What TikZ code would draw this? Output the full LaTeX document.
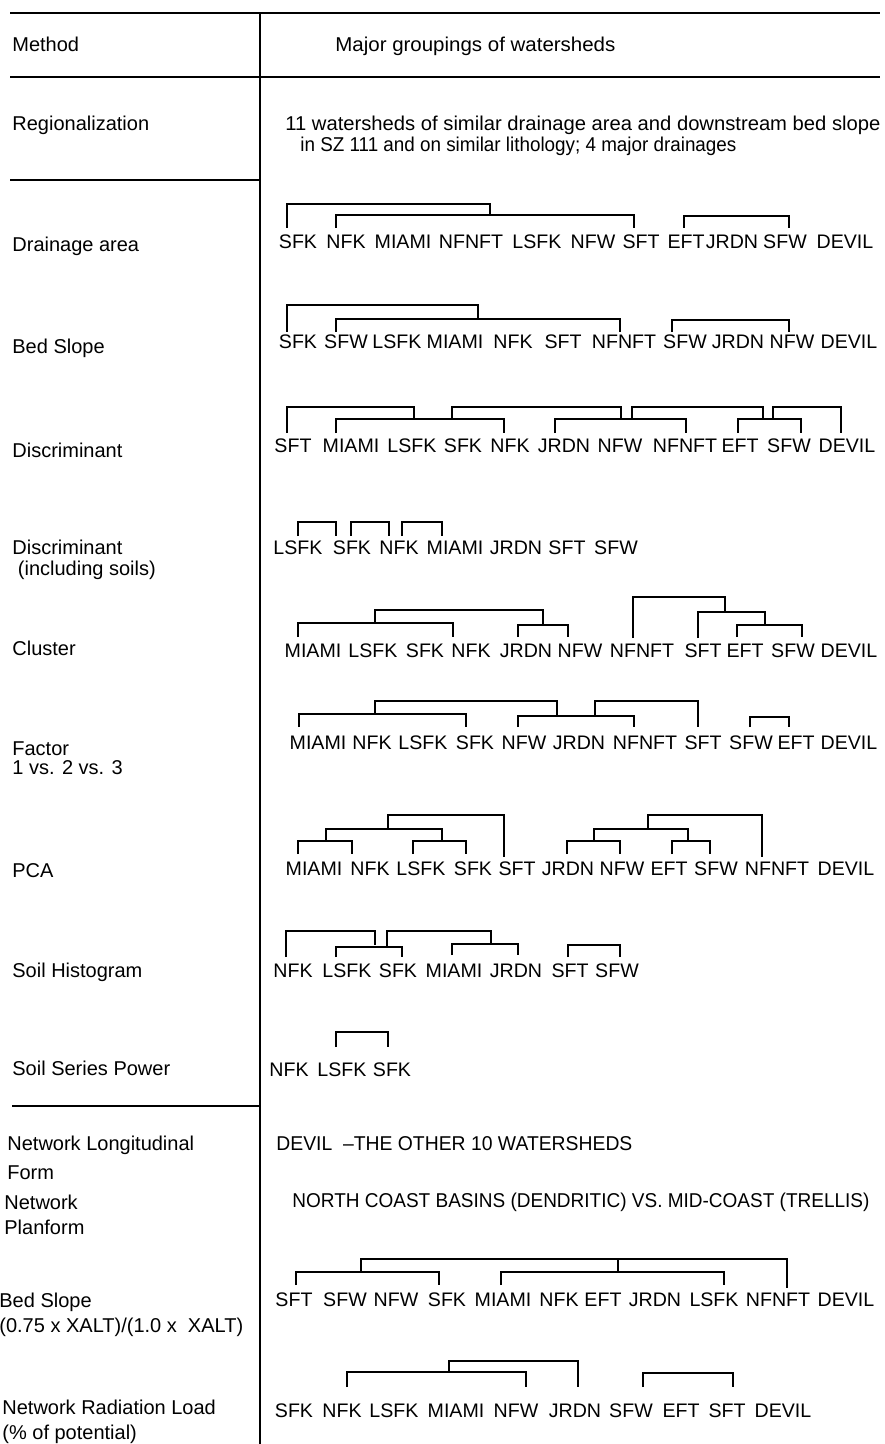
\documentclass[tikz,border=0pt]{standalone}
\usepackage{fontspec}
\usepackage{graphicx}
\setmainfont{Liberation Sans}
\newcommand\fitw[2]{\resizebox{#1}{\height}{#2}}
\newcommand\wordrow[3]{\foreach \x/\w [count=\i] in {#3} {\node[word] (#1-\i) at (\x,#2) {\w};}}
\begin{document}
\begin{tikzpicture}[x=0.5pt,y=-0.5pt,
  word/.style={anchor=base,inner sep=0pt,font=\fontsize{9.8}{11}\selectfont},
  lbl/.style={anchor=base west,inner sep=0pt,font=\fontsize{10}{12}\selectfont},
  txt/.style={anchor=base west,inner sep=0pt,font=\fontsize{10}{12}\selectfont},
  rule/.style={line width=1pt},
  br/.style={line width=1.3pt,line join=miter}]
\fill[white] (0,0) rectangle (884,1444);
\useasboundingbox (0,0) rectangle (884,1444);
% rules
\coordinate (tl) at (10,13); \coordinate (tr) at (880,13);
\coordinate (hl) at (10,77); \coordinate (hr) at (880,77);
\coordinate (dtop) at (260,13); \coordinate (dbot) at (260,1444);
\coordinate (s1l) at (10,180); \coordinate (s1r) at (260,180);
\coordinate (s2l) at (12,1106); \coordinate (s2r) at (260,1106);
\draw[rule] (tl) -- (tr);
\draw[rule] (hl) -- (hr);
\draw[rule] (dtop) -- (dbot);
\draw[rule] (s1l) -- (s1r);
\draw[rule] (s2l) -- (s2r);
% left labels
\node[lbl] (l0) at (12,51.5) {Method};
\node[lbl] (l1) at (12,130.5) {Regionalization};
\node[lbl] (l2) at (12,251.5) {Drainage area};
\node[lbl] (l3) at (12,353.5) {Bed Slope};
\node[lbl] (l4) at (12,457) {Discriminant};
\node[lbl] (l5a) at (12,554.5) {Discriminant};
\node[lbl] (l5b) at (12,575.5) {\ (including soils)};
\node[lbl] (l6) at (12,655.5) {Cluster};
\node[lbl] (l7a) at (12,755.5) {Factor};
\node[lbl] (l7b) at (12,774.5) {1 vs. 2 vs. 3};
\node[lbl] (l8) at (12,877.5) {PCA};
\node[lbl] (l9) at (12,977.5) {Soil Histogram};
\node[lbl] (l10) at (12,1075.5) {Soil Series Power};
\node[lbl] (l11a) at (7,1150.5) {Network Longitudinal};
\node[lbl] (l11b) at (7,1179.5) {Form};
\node[lbl] (l12a) at (4,1209.5) {Network};
\node[lbl] (l12b) at (4,1234.5) {Planform};
\node[lbl] (l13a) at (-1,1307.5) {Bed Slope};
\node[lbl] (l13b) at (-1,1332.5) {(0.75 x XALT)/(1.0 x \ XALT)};
\node[lbl] (l14a) at (2,1414.5) {Network Radiation Load};
\node[lbl] (l14b) at (2,1439.5) {(\% of potential)};
% right texts
\node[txt] (h1) at (335,51.5) {\fitw{140pt}{Major groupings of watersheds}};
\node[txt] (g1) at (285,130.5) {\fitw{297.5pt}{11 watersheds of similar drainage area and downstream bed slope}};
\node[txt] (g2) at (300,152) {\fitw{218pt}{in SZ 111 and on similar lithology; 4 major drainages}};
\node[txt] (n1) at (276,1150.5) {\fitw{178pt}{DEVIL \ --THE OTHER 10 WATERSHEDS}};
\node[txt] (n2) at (292,1207.5) {\fitw{288.5pt}{NORTH COAST BASINS (DENDRITIC) VS. MID-COAST (TRELLIS)}};
% row 1 drainage area
\wordrow{a}{248.5}{298/SFK,346/NFK,403/MIAMI,471/NFNFT,537/LSFK,593/NFW,641/SFT,686/EFT,732/JRDN,785/SFW,845/DEVIL}
\draw[br] (287,228) |- (490,204) -- (490,215);
\draw[br] (336,228) |- (634,215) -- (634,228);
\draw[br] (684,228) |- (789,216) -- (789,228);
% row 2 bed slope
\wordrow{b}{348.5}{298/SFK,346/SFW,397/LSFK,455/MIAMI,513/NFK,563/SFT,624/NFNFT,685/SFW,738/JRDN,792/NFW,849/DEVIL}
\draw[br] (287,332) |- (478,305) -- (478,319);
\draw[br] (336,332) |- (620,319) -- (620,332);
\draw[br] (672,332) |- (789,320) -- (789,332);
% row 3 discriminant
\wordrow{c}{452.5}{293/SFT,351/MIAMI,412/LSFK,463/SFK,510/NFK,564/JRDN,620/NFW,685/NFNFT,740/EFT,789/SFW,847/DEVIL}
\draw[br] (287,433) |- (414,407) -- (414,419);
\draw[br] (336,433) |- (504,419) -- (504,433);
\draw[br] (452,419) |- (621,407) -- (621,419);
\draw[br] (555,433) |- (686,419) -- (686,433);
\draw[br] (632,419) |- (763,407) -- (763,419);
\draw[br] (738,433) |- (801,419) -- (801,433);
\draw[br] (773,419) |- (841,407) -- (841,433);
% row 4 discriminant incl soils
\wordrow{d}{554.5}{298/LSFK,352/SFK,399/NFK,455/MIAMI,516/JRDN,567/SFT,616/SFW}
\draw[br] (298,536) |- (336,522) -- (336,536);
\draw[br] (351,536) |- (389,522) -- (389,536);
\draw[br] (402,536) |- (442,522) -- (442,536);
% row 5 cluster
\wordrow{e}{657.5}{313/MIAMI,373/LSFK,425/SFK,471/NFK,526/JRDN,580/NFW,642/NFNFT,703/SFT,745/EFT,793/SFW,849/DEVIL}
\draw[br] (298,637) |- (453,623) -- (453,637);
\draw[br] (375,623) |- (543,610) -- (543,625);
\draw[br] (518,637) |- (568,625) -- (568,637);
\draw[br] (633,638) |- (725,597) -- (725,612);
\draw[br] (698,638) |- (765,612) -- (765,625);
\draw[br] (737,637) |- (802,625) -- (802,637);
% row 6 factor
\wordrow{f}{749.5}{318/MIAMI,372/NFK,423/LSFK,475/SFK,524/NFW,579/JRDN,645/NFNFT,703/SFT,751/SFW,796/EFT,849/DEVIL}
\draw[br] (299,727) |- (466,714) -- (466,727);
\draw[br] (375,714) |- (557,701) -- (557,716);
\draw[br] (518,727) |- (634,716) -- (634,727);
\draw[br] (595,716) |- (698,701) -- (698,727);
\draw[br] (750,727) |- (789,717) -- (789,727);
% row 7 PCA
\wordrow{g}{875.5}{314/MIAMI,370/NFK,421/LSFK,473/SFK,517/SFT,568/JRDN,622/NFW,669/EFT,716/SFW,777/NFNFT,846/DEVIL}
\draw[br] (298,854) |- (352,841) -- (352,854);
\draw[br] (413,854) |- (466,841) -- (466,854);
\draw[br] (326,841) |- (442,829) -- (442,841);
\draw[br] (388,829) |- (504,815) -- (504,857);
\draw[br] (567,854) |- (620,841) -- (620,854);
\draw[br] (672,854) |- (710,841) -- (710,854);
\draw[br] (594,841) |- (688,829) -- (688,841);
\draw[br] (648,829) |- (762,815) -- (762,857);
% row 8 soil histogram
\wordrow{h}{977.5}{293/NFK,347/LSFK,398/SFK,454/MIAMI,516/JRDN,570/SFT,617/SFW}
\draw[br] (286,957) |- (375,931) -- (375,945);
\draw[br] (336,957) |- (402,947) -- (402,957);
\draw[br] (387,947) |- (491,931) -- (491,944);
\draw[br] (452,955) |- (518,944) -- (518,955);
\draw[br] (568,957) |- (620,945) -- (620,957);
% row 9 soil series power
\wordrow{k}{1076.5}{289/NFK,342/LSFK,392/SFK}
\draw[br] (336,1047) |- (388,1032) -- (388,1047);
% row 10 bed slope XALT
\wordrow{m}{1306.5}{294/SFT,345/SFW,396/NFW,447/SFK,503/MIAMI,559/NFK,603/EFT,655/JRDN,714/LSFK,778/NFNFT,846/DEVIL}
\draw[br] (296,1285) |- (439,1272) -- (439,1285);
\draw[br] (501,1285) |- (724,1272) -- (724,1285);
\draw[br] (361,1272) |- (787,1259) -- (787,1288);
\draw[br] (618,1259) -- (618,1272);
% row 11 network radiation load
\wordrow{p}{1417.5}{294/SFK,342/NFK,394/LSFK,456/MIAMI,516/NFW,575/JRDN,631/SFW,681/EFT,727/SFT,783/DEVIL}
\draw[br] (347,1387) |- (526,1372) -- (526,1387);
\draw[br] (449,1372) |- (578,1361) -- (578,1387);
\draw[br] (643,1387) |- (733,1373) -- (733,1387);
\end{tikzpicture}
\end{document}
